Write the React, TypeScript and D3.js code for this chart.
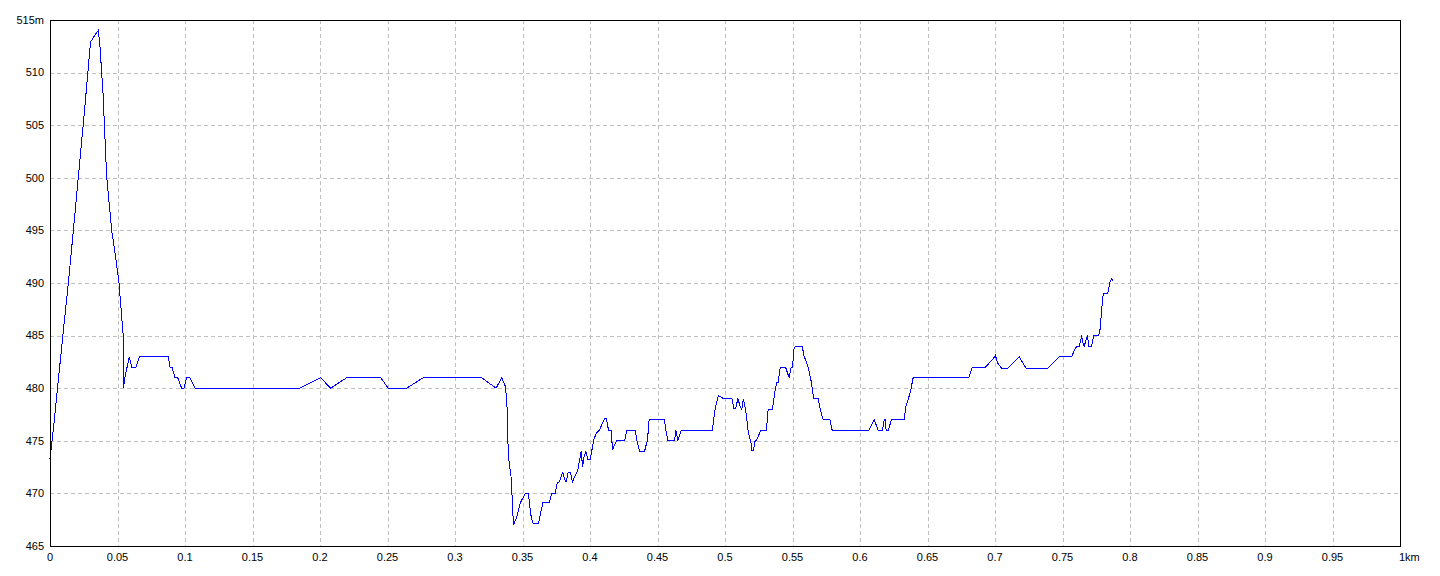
import * as d3 from "d3";

// distance along the route (km) and ground elevation (m)
const distanceKm = [
  0, 0.0024, 0.0062, 0.0099, 0.0136, 0.0173, 0.021, 0.0247, 0.028, 0.03, 0.032, 0.0335, 0.0358,
  0.037, 0.0395, 0.0402, 0.042, 0.0457, 0.0489, 0.0511, 0.0531, 0.0543, 0.0544,
  0.0555, 0.0587, 0.0605, 0.0637, 0.0662, 0.0877, 0.0889, 0.0904, 0.0926, 0.0946, 0.0975,
  0.0993, 0.1012, 0.1037, 0.1074, 0.1852, 0.2005, 0.2079, 0.2198, 0.2449, 0.2506, 0.2642,
  0.2765, 0.3198, 0.3304, 0.3346, 0.3372, 0.3384, 0.3391, 0.3401, 0.3414, 0.3421, 0.3428,
  0.3436, 0.345, 0.3465, 0.3483, 0.35, 0.352, 0.3544, 0.3554, 0.3564, 0.3579, 0.3619, 0.3633,
  0.3651, 0.3698, 0.3717, 0.3742, 0.3757, 0.3772, 0.3786, 0.3799, 0.3811, 0.3823, 0.3838,
  0.3856, 0.387, 0.3886, 0.391, 0.3923, 0.3935, 0.3945, 0.3956, 0.3969, 0.3984, 0.4001,
  0.4014, 0.4028, 0.4046, 0.407, 0.4086, 0.4107, 0.4122, 0.4137, 0.4157, 0.4167, 0.4177,
  0.4199, 0.4256, 0.4273, 0.4335, 0.4349, 0.4367, 0.4404, 0.4426, 0.4438, 0.4552, 0.4562,
  0.4577, 0.4626, 0.4636, 0.4651, 0.4675, 0.4907, 0.4919, 0.4931, 0.4952, 0.4989, 0.5051,
  0.5065, 0.508, 0.5095, 0.5112, 0.5125, 0.5136, 0.5153, 0.5173, 0.5185, 0.5191, 0.5196,
  0.5211, 0.5221, 0.5235, 0.5265, 0.5307, 0.532, 0.5352, 0.5364, 0.5374, 0.5386, 0.5393,
  0.5409, 0.5449, 0.5464, 0.5475, 0.5488, 0.5502, 0.5507, 0.5522, 0.5572, 0.5586, 0.5604,
  0.5621, 0.5641, 0.5656, 0.569, 0.5707, 0.5727, 0.5777, 0.5794, 0.6065, 0.6105, 0.6135,
  0.6167, 0.6179, 0.6186, 0.6194, 0.6209, 0.6233, 0.6327, 0.6342, 0.6357, 0.6377, 0.6394,
  0.6806, 0.6831, 0.693, 0.6999, 0.7003, 0.702, 0.7049, 0.7094, 0.718, 0.7197, 0.723, 0.739,
  0.7477, 0.7568, 0.7588, 0.7607, 0.7625, 0.7642, 0.7654, 0.7662, 0.7674, 0.7686, 0.7694,
  0.7716, 0.7731, 0.7768, 0.778, 0.779, 0.7802, 0.7835, 0.7854, 0.7864, 0.7872,
];

const elevationM = [
  473.3, 476, 480.8, 485.5, 490, 495, 500.1, 505.2, 509.9, 512.9, 513.3, 513.6, 514,
  512.5, 507.6, 505.2, 500.1, 495, 492.2, 490, 486.8, 484.9, 480,
  481, 483, 482, 482, 483, 483, 482, 482, 481, 481, 480,
  480, 481, 481, 480, 480, 481, 480, 481, 481, 480, 480,
  481, 481, 480, 481, 480.2, 478.9, 475.1, 472.9, 471.8, 470.3, 468.1,
  467.1, 467.5, 468.1, 469.1, 469.5, 470, 470, 468.8, 467.8, 467.1, 467.1, 468.1,
  469.1, 469.1, 470, 470, 471, 471.1, 471.6, 472, 471.4, 471.1, 472,
  472, 471.1, 471.6, 472.2, 473.2, 474, 472.5, 473.5, 474, 473.2, 473.2,
  474.1, 475.1, 475.7, 476, 476.5, 477.1, 477.1, 476, 476, 474.1, 474.5,
  475, 475, 476, 476, 474.9, 474, 474, 475.1, 477, 477, 476,
  475, 475, 476, 475, 476, 476, 477.3, 478.3, 479.3, 479, 479,
  478.1, 478.1, 479, 478.3, 478, 479, 477.9, 475.8, 475.2, 475.1, 474.1,
  474.1, 474.9, 475.1, 476, 476, 478, 478, 479.2, 480, 480.6, 480.5,
  482, 482, 481.4, 481, 481.9, 482, 483.6, 484, 484, 483, 482.5,
  481.7, 480.5, 479, 479, 477.9, 477, 477, 476, 476, 477, 476,
  476, 477, 477, 476, 476, 477, 477, 478.4, 478.9, 479.9, 481,
  481, 482, 482, 483, 483.1, 482.4, 481.9, 481.9, 483, 482.6, 481.9, 481.9,
  483, 483, 483.6, 484, 484, 485, 484.1, 484, 484.6, 485, 484,
  484, 485, 485, 485.7, 487.5, 489, 489, 490.2, 490.4, 490.2,
];

const xTicks = [0, 0.05, 0.1, 0.15, 0.2, 0.25, 0.3, 0.35, 0.4, 0.45, 0.5, 0.55, 0.6, 0.65, 0.7, 0.75, 0.8, 0.85, 0.9, 0.95, 1];
const xTickLabels = ["0", "0.05", "0.1", "0.15", "0.2", "0.25", "0.3", "0.35", "0.4", "0.45", "0.5", "0.55", "0.6", "0.65", "0.7", "0.75", "0.8", "0.85", "0.9", "0.95", "1km"];
const yTicks = [465, 470, 475, 480, 485, 490, 495, 500, 505, 510, 515];
const yTickLabels = ["465", "470", "475", "480", "485", "490", "495", "500", "505", "510", "515m"];

const W = 1440;
const H = 576;
const margin = { top: 20, right: 40, bottom: 30, left: 50 };
const font = "'Liberation Sans', Arial, sans-serif";

export default function App() {
  const x = d3.scaleLinear().domain([0, 1]).range([margin.left, W - margin.right]);
  const y = d3.scaleLinear().domain([465, 515]).range([H - margin.bottom, margin.top]);

  const points = distanceKm.map((d, i) => [d, elevationM[i]] as [number, number]);
  const line = d3
    .line<[number, number]>()
    .x((d) => x(d[0]))
    .y((d) => y(d[1]));

  const left = x(0);
  const right = x(1);
  const top = y(515);
  const bottom = y(465);

  return (
    <div style={{ position: "fixed", left: 0, top: 0, width: W, height: H, background: "#fff" }}>
      <svg width={W} height={H} style={{ display: "block" }}>
        <rect x={0} y={0} width={W} height={H} fill="#fff" />

        {/* grid */}
        {xTicks.slice(1, -1).map((t) => (
          <line
            key={"gx" + t}
            x1={Math.round(x(t)) + 0.5}
            x2={Math.round(x(t)) + 0.5}
            y1={top}
            y2={bottom}
            stroke="#c0c0c0"
            strokeDasharray="4 3"
          />
        ))}
        {yTicks.slice(1, -1).map((t) => (
          <line
            key={"gy" + t}
            x1={left}
            x2={right}
            y1={Math.round(y(t)) + 0.5}
            y2={Math.round(y(t)) + 0.5}
            stroke="#c0c0c0"
            strokeDasharray="4 3"
          />
        ))}

        {/* profile */}
        <path
          d={line(points) ?? ""}
          fill="none"
          stroke="#0000ff"
          strokeWidth={1}
          shapeRendering="crispEdges"
        />

        {/* frame */}
        <rect
          x={left + 0.5}
          y={top + 0.5}
          width={right - left}
          height={bottom - top}
          fill="none"
          stroke="#000"
          strokeWidth={1}
        />

        {/* y labels */}
        {yTicks.map((t, i) => (
          <text
            key={"ly" + t}
            x={left - 6}
            y={y(t)}
            dy="0.35em"
            textAnchor="end"
            fontFamily={font}
            fontSize={11}
            fill="#000"
          >
            {yTickLabels[i]}
          </text>
        ))}

        {/* x labels */}
        {xTicks.map((t, i) => {
          const last = i === xTicks.length - 1;
          return (
            <text
              key={"lx" + t}
              x={last ? x(t) - 1 : x(t)}
              y={bottom + 15}
              textAnchor={last ? "start" : "middle"}
              fontFamily={font}
              fontSize={11}
              fill="#000"
            >
              {xTickLabels[i]}
            </text>
          );
        })}
      </svg>
    </div>
  );
}
